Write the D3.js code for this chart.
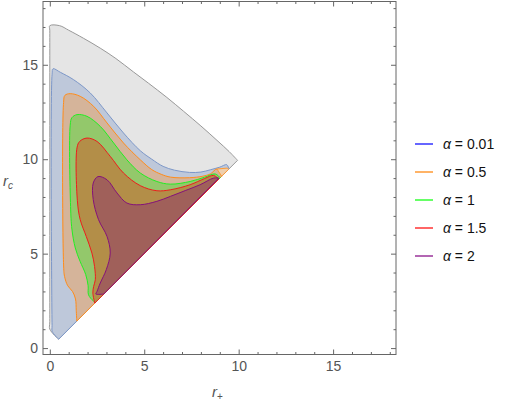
<!DOCTYPE html>
<html>
<head>
<meta charset="utf-8">
<script src="https://cdn.jsdelivr.net/npm/d3@7"></script>
<style>
  body { margin: 0; background: #fff; }
  svg { display: block; font-family: "Liberation Sans", Arial, sans-serif; }
</style>
</head>
<body>
<div id="chart"></div>
<script>
// region outlines, as [r+, rc] pairs
// each starts and ends on the diagonal rc = r+
var grayRegion = [[0.47,0.47],[0,1.0],[0,1.4],[0,16.8],[0,17.07],[0.52,17.07],[1.0,16.83],[1.79,16.4],
  [2.67,15.88],[3.5,15.33],[4.43,14.62],[5.23,14.02],[6.2,13.27],[7.08,12.54],[8.0,11.76],[8.85,11.0],
  [9.5,10.4],[9.94,9.94]];
var blueRegion = [[0.47,0.47],[0.13,0.88],[0.12,1.2],[0.12,14.5],[0.17,14.79],[0.56,14.6],[1.26,14.21],
  [2.14,13.51],[3.03,12.45],[3.9,11.39],[4.79,10.45],[5.4,10.0],[6.0,9.62],[6.6,9.42],[7.4,9.3],
  [8.0,9.32],[8.5,9.44],[9.0,9.58],[9.37,9.71],[9.48,9.48]];
var orangeRegion = [[1.43,1.43],[1.4,2.0],[1.36,2.6],[1.2,3.0],[0.95,3.3],[0.78,3.8],[0.73,4.4],
  [0.73,13.0],[0.8,13.38],[1.08,13.47],[1.61,13.33],[2.32,12.8],[3.03,11.92],[3.9,10.86],[4.79,9.97],
  [5.4,9.45],[5.9,9.2],[6.4,9.05],[7.4,9.02],[8.1,9.1],[8.5,9.22],[8.85,9.48],[9.1,9.1]];
var orangeTip = [[8.85,9.48],[9.41,9.53],[9.46,9.46],[9.1,9.1]];
var greenRegion = [[2.42,2.42],[2.3,2.5],[2.05,2.82],[2.03,3.3],[1.9,3.9],[1.6,4.6],[1.35,5.3],
  [1.17,6.3],[1.1,7.5],[1.08,11.8],[1.17,12.2],[1.44,12.36],[1.97,12.27],[2.67,11.74],[3.38,10.86],
  [4.08,9.97],[4.79,9.27],[5.67,8.82],[6.38,8.68],[7.43,8.82],[8.2,9.05],[8.76,9.22],[9.02,9.02]];
var redRegion = [[2.38,2.38],[2.28,2.91],[2.32,3.26],[2.41,3.62],[2.37,4.32],[2.23,5.03],[1.93,5.91],
  [1.61,6.8],[1.46,7.8],[1.44,10.6],[1.58,10.94],[1.97,11.12],[2.5,10.94],[3.2,10.15],[3.9,9.27],
  [4.79,8.6],[5.67,8.33],[6.38,8.38],[7.43,8.65],[8.2,8.98],[8.67,9.14],[8.95,8.95]];
var purpleRegion = [[2.85,2.86],[2.44,2.86],[2.5,3.0],[2.67,3.44],[2.99,4.15],[3.2,5.03],[3.03,5.91],
  [2.58,6.8],[2.3,7.86],[2.3,8.74],[2.55,9.08],[3.03,8.91],[3.56,8.21],[4.08,7.68],[4.79,7.59],
  [5.67,7.77],[6.38,8.03],[7.2,8.35],[7.96,8.65],[8.67,9.0],[8.95,9.0]];

var alphaLabels = ['0.01', '0.5', '1', '1.5', '2'];
var legendColors = ['#0000ff', '#ff8000', '#00ff00', '#ff0000', '#800080'];
var majorTicks = [0, 5, 10, 15];
var minorTicks = [1, 2, 3, 4, 6, 7, 8, 9, 11, 12, 13, 14, 16, 17, 18];

var width = 506, height = 402;
var frame = {left: 43, top: 1.5, right: 396, bottom: 354.5};

var svg = d3.select('#chart').append('svg')
  .attr('width', width)
  .attr('height', height);

var x = d3.scaleLinear().domain([-0.36, 18.33]).range([frame.left, frame.right]);
var y = d3.scaleLinear().domain([-0.34, 18.35]).range([frame.bottom, frame.top]);

var line = d3.line()
  .x(function(d) { return x(d[0]); })
  .y(function(d) { return y(d[1]); })
  .curve(d3.curveCatmullRom.alpha(0.5));

var layers = [
  {pts: grayRegion, fill: '#e5e5e5', stroke: '#999999', smooth: true},
  {pts: blueRegion, fill: '#bec8da', stroke: '#7c97c8', smooth: true},
  {pts: orangeRegion, fill: '#d5b49a', stroke: '#ff8c1a', smooth: true},
  {pts: orangeTip, fill: '#efcfad', stroke: '#ff9a33', smooth: false},
  {pts: greenRegion, fill: '#93c86b', stroke: '#22ee22', smooth: true},
  {pts: redRegion, fill: '#b38e48', stroke: '#ee1c1c', smooth: true},
  {pts: purpleRegion, fill: '#a0605a', stroke: '#84127a', smooth: true}
];

svg.append('defs').append('clipPath')
  .attr('id', 'plot-clip')
  .append('rect')
  .attr('x', frame.left).attr('y', frame.top)
  .attr('width', frame.right - frame.left)
  .attr('height', frame.bottom - frame.top);

var plot = svg.append('g').attr('clip-path', 'url(#plot-clip)');
plot.selectAll('path.region')
  .data(layers)
  .enter().append('path')
  .attr('class', 'region')
  .attr('d', function(l) {
    if (!l.smooth) {
      return 'M' + l.pts.map(function(p) { return x(p[0]) + ',' + y(p[1]); }).join('L') + 'Z';
    }
    return line(l.pts) + 'Z';
  })
  .attr('fill', function(l) { return l.fill; })
  .attr('stroke', function(l) { return l.stroke; })
  .attr('stroke-width', 1)
  .attr('stroke-linejoin', 'round');

// frame with inward ticks on all four sides
function frameAxis(axis, translate, ticks, size, labelled) {
  var g = svg.append('g')
    .attr('transform', translate)
    .call(axis.tickValues(ticks).tickSize(-size).tickPadding(labelled ? 7 : 0)
      .tickFormat(labelled ? d3.format('d') : function() { return ''; }));
  g.select('.domain').remove();
  g.selectAll('line').attr('stroke', '#666');
  g.selectAll('text')
    .attr('fill', '#555')
    .attr('font-size', 14)
    .attr('font-family', '"Liberation Sans", Arial, sans-serif');
  return g;
}

frameAxis(d3.axisBottom(x), 'translate(0,' + frame.bottom + ')', majorTicks, 5, true);
frameAxis(d3.axisBottom(x), 'translate(0,' + frame.bottom + ')', minorTicks, 2.5, false);
frameAxis(d3.axisTop(x), 'translate(0,' + frame.top + ')', majorTicks, 5, false);
frameAxis(d3.axisTop(x), 'translate(0,' + frame.top + ')', minorTicks, 2.5, false);
frameAxis(d3.axisLeft(y), 'translate(' + frame.left + ',0)', majorTicks, 5, true)
  .selectAll('text').attr('x', -5);
frameAxis(d3.axisLeft(y), 'translate(' + frame.left + ',0)', minorTicks, 2.5, false);
frameAxis(d3.axisRight(y), 'translate(' + frame.right + ',0)', majorTicks, 5, false);
frameAxis(d3.axisRight(y), 'translate(' + frame.right + ',0)', minorTicks, 2.5, false);

svg.append('rect')
  .attr('x', frame.left).attr('y', frame.top)
  .attr('width', frame.right - frame.left)
  .attr('height', frame.bottom - frame.top)
  .attr('fill', 'none')
  .attr('stroke', '#666')
  .attr('stroke-width', 1);

// axis labels
var xLabel = svg.append('text')
  .attr('x', 212).attr('y', 397)
  .attr('fill', '#555')
  .attr('font-size', 15);
xLabel.append('tspan').attr('font-style', 'italic').text('r');
xLabel.append('tspan').attr('font-size', 10).attr('dy', 3).text('+');

var yLabel = svg.append('text')
  .attr('x', 3).attr('y', 186)
  .attr('fill', '#555')
  .attr('font-size', 15);
yLabel.append('tspan').attr('font-style', 'italic').text('r');
yLabel.append('tspan').attr('font-size', 10).attr('font-style', 'italic').attr('dy', 3).text('c');

// legend
var legend = svg.append('g').attr('class', 'legend');
var item = legend.selectAll('g')
  .data(alphaLabels)
  .enter().append('g')
  .attr('transform', function(d, i) { return 'translate(415,' + (144 + i * 28) + ')'; });
item.append('line')
  .attr('x1', 0).attr('x2', 18)
  .attr('stroke', function(d, i) { return legendColors[i]; })
  .attr('stroke-width', 1.2);
var label = item.append('text')
  .attr('x', 28).attr('y', 5)
  .attr('font-size', 14)
  .attr('fill', '#111');
label.append('tspan').attr('font-style', 'italic').text('\u03b1');
label.append('tspan').text(function(d) { return ' = ' + d; });
</script>
</body>
</html>
